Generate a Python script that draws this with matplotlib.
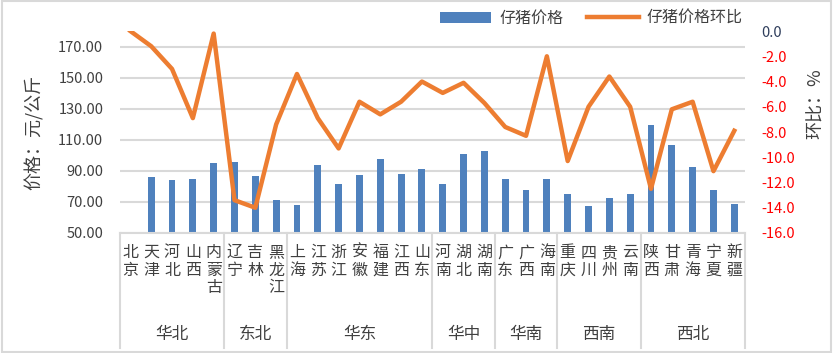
import numpy as np
import matplotlib
matplotlib.use("Agg")
import matplotlib.pyplot as plt
import matplotlib.transforms as mtransforms
from matplotlib.patches import Rectangle

plt.rcParams['font.family'] = ['Noto Sans CJK SC', 'DejaVu Sans']

provinces = ['北京', '天津', '河北', '山西', '内蒙古', '辽宁', '吉林', '黑龙江',
             '上海', '江苏', '浙江', '安徽', '福建', '江西', '山东',
             '河南', '湖北', '湖南', '广东', '广西', '海南',
             '重庆', '四川', '贵州', '云南', '陕西', '甘肃', '青海', '宁夏', '新疆']
regions = ['华北', '东北', '华东', '华中', '华南', '西南', '西北']
region_sizes = [5, 3, 7, 3, 3, 4, 5]

price = [np.nan, 86.1, 84.1, 84.8, 95.1, 95.7, 86.7, 71.3,
         68.0, 93.8, 81.6, 87.4, 97.7, 88.0, 91.2,
         81.6, 100.9, 102.8, 84.8, 77.7, 84.8,
         75.1, 67.4, 72.5, 75.1, 119.6, 106.7, 92.5, 77.7, 68.7]
mom = [0.0, -1.2, -3.0, -6.9, -0.2, -13.4, -14.0, -7.4,
       -3.4, -6.9, -9.3, -5.6, -6.6, -5.6, -4.0,
       -4.9, -4.1, -5.7, -7.6, -8.3, -2.0,
       -10.3, -6.0, -3.6, -6.0, -12.5, -6.2, -5.6, -11.1, -7.9]

bar_color = '#4F81BD'
line_color = '#ED7D31'
grid_color = '#D9D9D9'
text_color = '#404040'

fig = plt.figure(figsize=(8.33, 3.53), dpi=100)
ax = fig.add_axes([0.144, 0.340, 0.750, 0.572])
x = np.arange(len(provinces))

ax.bar(x, price, width=0.33, color=bar_color, label='仔猪价格', zorder=2)
ax.set_ylim(50, 180)
ax.set_yticks(np.arange(50, 171, 20))
ax.set_yticklabels([f'{v:.2f}' for v in np.arange(50, 171, 20)], fontsize=10.5, color=text_color)
ax.yaxis.grid(True, color=grid_color, linewidth=1.5, zorder=0)
ax.set_xlim(-0.5, len(provinces) - 0.5)
ax.set_xticks(x)
ax.set_xticklabels(['\n'.join(p) for p in provinces], fontsize=11.5,
                   color=text_color, va='top', linespacing=1.05)
ax.tick_params(axis='both', length=0)
ax.tick_params(axis='y', pad=12)
ax.tick_params(axis='x', pad=8)
for s in ['top', 'left', 'right']:
    ax.spines[s].set_visible(False)
ax.spines['bottom'].set_color(grid_color)
ax.spines['bottom'].set_linewidth(1.5)
ax.set_ylabel('价格：元/公斤', fontsize=13, color=text_color, labelpad=10)

ax2 = ax.twinx()
ax2.plot(x, mom, color=line_color, linewidth=3.2, label='仔猪价格环比', zorder=3)
ax2.set_ylim(-16, 0)
rticks = np.arange(0, -16.1, -2)
ax2.set_yticks(rticks)
ax2.set_yticklabels([f'{v:.1f}' for v in rticks], fontsize=10.5)
for lab, v in zip(ax2.get_yticklabels(), rticks):
    lab.set_color('#2F3E5C' if v == 0 else 'red')
ax2.tick_params(axis='y', length=0, pad=12)
for s in ['top', 'left', 'right', 'bottom']:
    ax2.spines[s].set_visible(False)
ax2.set_ylabel('环比：%', fontsize=13, color=text_color, rotation=90)
ax2.yaxis.set_label_coords(1.10, 0.64)

# region separators and labels below the axis
trans = mtransforms.blended_transform_factory(ax.transData, ax.transAxes)
bounds = np.concatenate([[0], np.cumsum(region_sizes)]) - 0.5
for b in bounds:
    ax.plot([b, b], [0, -0.57], transform=trans, color=grid_color,
            linewidth=1.5, clip_on=False)
for name, lo, hi in zip(regions, bounds[:-1], bounds[1:]):
    ax.text((lo + hi) / 2, -0.505, name, transform=trans, ha='center', va='center',
            fontsize=12, color=text_color)

fig.legend(loc='center', bbox_to_anchor=(0.71, 0.948), ncol=2, frameon=False,
           fontsize=11.5, handlelength=3.2, columnspacing=1.5, handletextpad=0.5,
           labelcolor=text_color)

fig.patches.append(Rectangle((0.002, 0.003), 0.996, 0.994, transform=fig.transFigure,
                             fill=False, edgecolor=grid_color, linewidth=1.5))

fig.savefig('out.png', dpi=100)
